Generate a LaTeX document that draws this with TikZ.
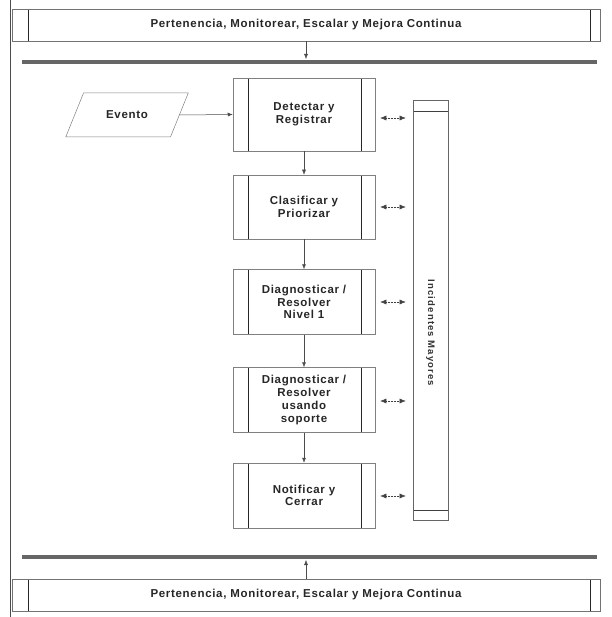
\documentclass[tikz,border=0pt]{standalone}
\usepackage{fontspec}
\setmainfont{Liberation Sans}
\newfontfamily\boxfont[LetterSpace=6]{Liberation Sans}
\newfontfamily\barfont[LetterSpace=12]{Liberation Sans}
\usetikzlibrary{shapes.geometric,arrows.meta}
\tikzset{
  txt/.style={font=\boxfont\bfseries\fontsize{11.5}{12.7}\selectfont, align=center, text=black!85},
  procbox/.style={txt, draw=black!50, line width=0.5pt, minimum width=142pt,
    path picture={
      \draw[black!85, line width=0.8pt]
        ([xshift=15pt]path picture bounding box.north west) -- ([xshift=15pt]path picture bounding box.south west)
        ([xshift=-14pt]path picture bounding box.north east) -- ([xshift=-14pt]path picture bounding box.south east);
    }},
  bandbox/.style={txt, draw=black!55, line width=0.6pt, minimum width=588pt, minimum height=32pt,
    path picture={
      \draw[black!85, line width=0.8pt]
        ([xshift=16pt]path picture bounding box.north west) -- ([xshift=16pt]path picture bounding box.south west)
        ([xshift=-10pt]path picture bounding box.north east) -- ([xshift=-10pt]path picture bounding box.south east);
    }},
  barbox/.style={draw=black!60, line width=0.6pt, minimum width=35pt, minimum height=420pt,
    path picture={
      \draw[black!75, line width=0.7pt]
        ([yshift=-11pt]path picture bounding box.north west) -- ([yshift=-11pt]path picture bounding box.north east)
        ([yshift=10pt]path picture bounding box.south west) -- ([yshift=10pt]path picture bounding box.south east);
    }},
  arr/.style={-{Latex[length=5pt,width=4pt]}, black!70, line width=0.5pt},
  dbl/.style={{Latex[length=6pt,width=5pt]}-{Latex[length=6pt,width=5pt]}, black!75, densely dotted, line width=0.5pt},
  thick band/.style={black!60, line width=3.2pt},
}
\begin{document}
\begin{tikzpicture}[x=1pt,y=-1pt]
\useasboundingbox (0,0) rectangle (611,617);
% outer frame left line
\draw[black!70, line width=0.8pt] (10,0) -- (10,617);

% top and bottom bands
\node[bandbox] (top) at (306,25) {Pertenencia, Monitorear, Escalar y Mejora Continua};
\node[bandbox] (bot) at (306,595) {Pertenencia, Monitorear, Escalar y Mejora Continua};

% thick lines
\coordinate (tl1) at (22,62);
\coordinate (tl2) at (597,62);
\coordinate (bl1) at (22,557);
\coordinate (bl2) at (597,557);
\draw[thick band] (tl1) -- (tl2);
\draw[thick band] (bl1) -- (bl2);
\coordinate (tlm) at (306,59);
\coordinate (blm) at (306,560);
\draw[arr] (top.south) -- (tlm);
\draw[arr] (bot.north) -- (blm);

% event
\node[trapezium, trapezium left angle=56, trapezium right angle=124, trapezium stretches=true,
      draw=black!50, line width=0.5pt, minimum width=123pt, minimum height=44pt, txt] (ev) at (127,115) {Evento};

% process boxes
\node[procbox, minimum height=73pt] (det) at (304,114.5) {Detectar y\\Registrar};
\node[procbox, minimum height=64pt] (cla) at (304,207) {Clasificar y\\Priorizar};
\node[procbox, minimum height=65pt] (dg1) at (304,302) {Diagnosticar /\\Resolver\\Nivel 1};
\node[procbox, minimum height=65pt] (dg2) at (304,400) {Diagnosticar /\\Resolver\\usando\\soporte};
\node[procbox, minimum height=65pt] (ntf) at (304,495.5) {Notificar y\\Cerrar};

% vertical bar
\node[barbox] (bar) at (430.5,310) {};
\node[font=\barfont\bfseries\fontsize{9.5}{11}\selectfont, text=black!80, rotate=-90] (bartxt) at (430.5,333) {Incidentes Mayores};

% connectors
\draw[arr] (ev.east) -- (det.west);
\draw[arr] (det.south) -- (cla.north);
\draw[arr] (cla.south) -- (dg1.north);
\draw[arr] (dg1.south) -- (dg2.north);
\draw[arr] (dg2.south) -- (ntf.north);

\foreach \b/\yy in {det/118, cla/207, dg1/302, dg2/401, ntf/496}{
  \draw[dbl, shorten <=5pt, shorten >=7pt] (\b.east |- 0,\yy) -- (bar.west |- 0,\yy);
}
\end{tikzpicture}
\end{document}
